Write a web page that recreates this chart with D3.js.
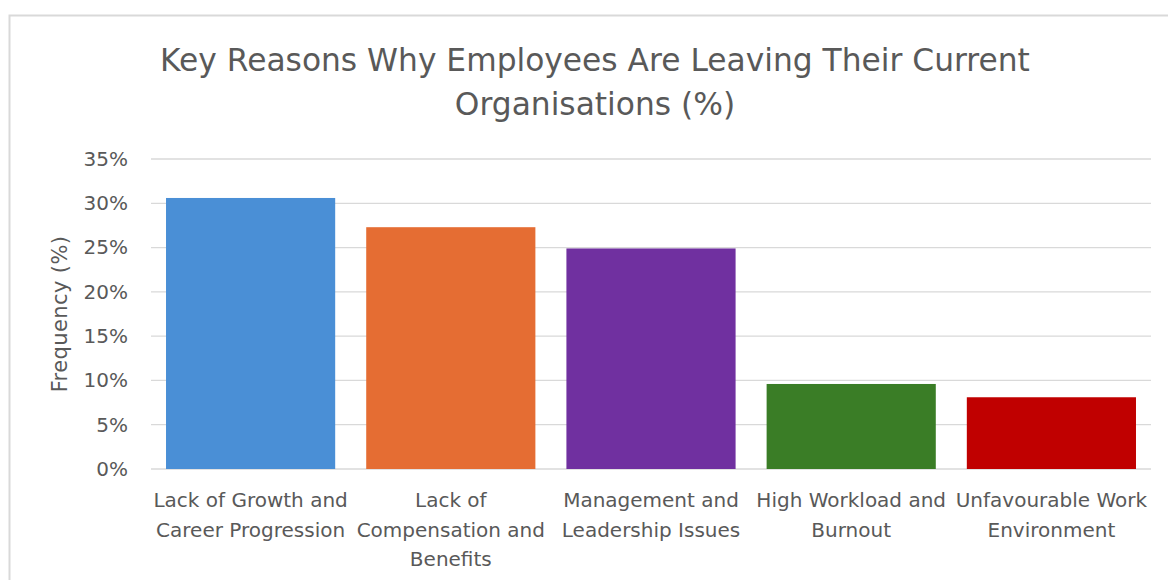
<!DOCTYPE html>
<html>
<head>
<meta charset="utf-8">
<script src="https://cdn.jsdelivr.net/npm/d3@7"></script>
<style>
  html, body { margin: 0; padding: 0; background: #fff; }
  svg, svg text { font-family: "DejaVu Sans", "Open Sans", sans-serif; }
  svg { display: block; }
  .grid line { stroke: #d9d9d9; stroke-width: 1.3; }
  .tick text { fill: #595959; font-family: "DejaVu Sans", "Open Sans", sans-serif; }
</style>
</head>
<body>
<div id="chartdiv"></div>
<script>
var titleLines = ["Key Reasons Why Employees Are Leaving Their Current", "Organisations (%)"];
var categories = [
  ["Lack of Growth and", "Career Progression"],
  ["Lack of", "Compensation and", "Benefits"],
  ["Management and", "Leadership Issues"],
  ["High Workload and", "Burnout"],
  ["Unfavourable Work", "Environment"]
];
var values = [0.306, 0.273, 0.249, 0.096, 0.081];
var barColors = ["#4A8FD6", "#E56D33", "#7030A0", "#3A7D26", "#C00000"];
var yTicks = [0, 0.05, 0.10, 0.15, 0.20, 0.25, 0.30, 0.35];
var yLabel = "Frequency (%)";

var W = 1168, H = 580;
var margin = { top: 159, right: 17, bottom: 111, left: 151 };
var width = W - margin.left - margin.right,
    height = H - margin.top - margin.bottom;

var svg = d3.select("#chartdiv").append("svg")
    .attr("width", W)
    .attr("height", H);

// chart frame
svg.append("rect")
    .attr("x", 9.5).attr("y", 15.5)
    .attr("width", W + 20).attr("height", H + 20)
    .attr("fill", "none")
    .attr("stroke", "#d9d9d9")
    .attr("stroke-width", 2);

var g = svg.append("g")
    .attr("transform", "translate(" + margin.left + "," + margin.top + ")");

var xScale = d3.scaleBand()
    .domain(d3.range(values.length))
    .range([0, width])
    .paddingInner(0.155)
    .paddingOuter(0.075);

var yScale = d3.scaleLinear()
    .domain([0, 0.35])
    .range([height, 0]);

// gridlines
g.append("g")
    .attr("class", "grid")
    .selectAll("line")
    .data(yTicks)
    .enter()
    .append("line")
    .attr("x1", 0)
    .attr("x2", width)
    .attr("y1", function(d) { return yScale(d); })
    .attr("y2", function(d) { return yScale(d); });

// bars
g.append("g")
    .selectAll("rect")
    .data(values)
    .enter()
    .append("rect")
    .attr("x", function(d, i) { return xScale(i); })
    .attr("y", function(d) { return yScale(d); })
    .attr("width", xScale.bandwidth())
    .attr("height", function(d) { return height - yScale(d); })
    .attr("fill", function(d, i) { return barColors[i]; });

// y axis
var yAxis = d3.axisLeft(yScale)
    .tickValues(yTicks)
    .tickSize(0)
    .tickPadding(23)
    .tickFormat(d3.format(".0%"));

g.append("g")
    .call(yAxis)
    .call(function(s) { s.select(".domain").remove(); })
    .selectAll("text")
    .style("font-size", "20px");

// x axis labels (multi-line)
var xAxis = d3.axisBottom(xScale).tickSize(0).tickFormat("");
var xg = g.append("g")
    .attr("transform", "translate(0," + height + ")")
    .call(xAxis);
xg.select(".domain").remove();
xg.selectAll(".tick").each(function(d) {
  var t = d3.select(this).select("text")
      .attr("y", 0)
      .attr("dy", null)
      .style("font-size", "20px");
  categories[d].forEach(function(line, k) {
    t.append("tspan")
        .attr("x", 0)
        .attr("y", 38 + k * 29.5)
        .text(line);
  });
});

// y axis title
svg.append("text")
    .attr("transform", "translate(67," + (margin.top + height / 2) + ") rotate(-90)")
    .attr("text-anchor", "middle")
    .attr("fill", "#595959")
    .style("font-size", "21px")
    .style("letter-spacing", "0.4px")
    .text(yLabel);

// chart title
svg.append("g")
    .selectAll("text")
    .data(titleLines)
    .enter()
    .append("text")
    .attr("x", 595)
    .attr("y", function(d, i) { return 71 + i * 44; })
    .attr("text-anchor", "middle")
    .attr("fill", "#595959")
    .style("font-size", "31.3px")
    .text(function(d) { return d; });
</script>
</body>
</html>
